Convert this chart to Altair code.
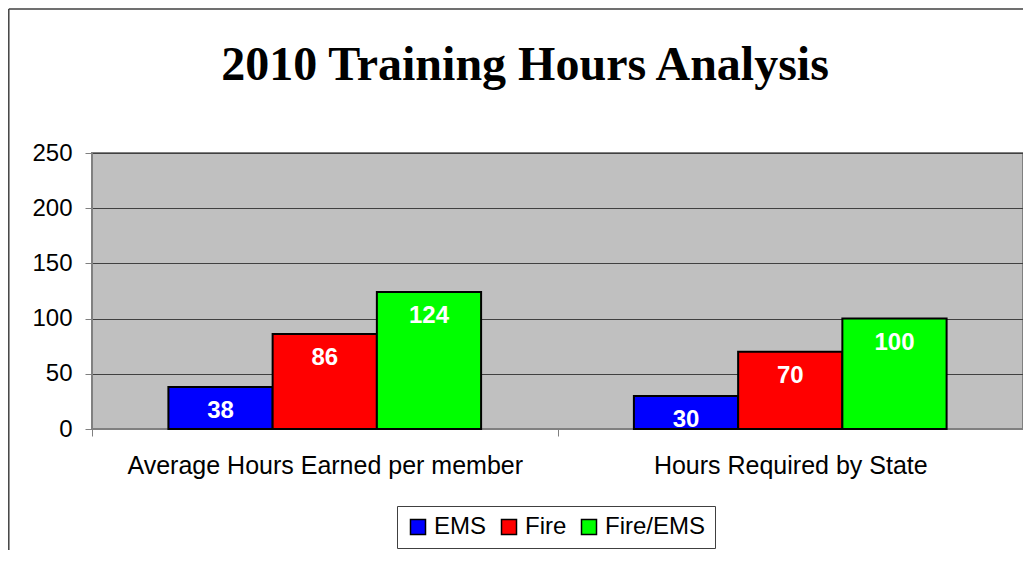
import altair as alt
import pandas as pd

title_text = "2010 Training Hours Analysis"
categories = ["Average Hours Earned per member", "Hours Required by State"]
series = ["EMS", "Fire", "Fire/EMS"]
ems_hours = [38, 30]
fire_hours = [86, 70]
fire_ems_hours = [124, 100]
colors = ["#0000FF", "#FF0000", "#00FF00"]
y_ticks = [0, 50, 100, 150, 200, 250]

rows = []
for s, vals in zip(series, [ems_hours, fire_hours, fire_ems_hours]):
    for c, v in zip(categories, vals):
        rows.append({"category": c, "series": s, "hours": v})
df = pd.DataFrame(rows)

FONT = "Liberation Sans"

x = alt.X(
    "category:N", sort=categories, title=None,
    scale=alt.Scale(paddingInner=0, paddingOuter=0),
    axis=alt.Axis(labelAngle=0, tickBand="extent", grid=False, tickSize=7,
                  labelPadding=37, labelBaseline="alphabetic", labelFontSize=25,
                  domainColor="#808080", tickColor="#808080", labelLimit=600),
)
xoff = alt.XOffset("series:N", sort=series,
                   scale=alt.Scale(paddingInner=0, paddingOuter=0.733))
y = alt.Y(
    "hours:Q", title=None,
    scale=alt.Scale(domain=[0, 250], nice=False),
    axis=alt.Axis(values=y_ticks, tickSize=7, labelPadding=13, labelFontSize=24,
                  grid=True, gridColor="#404040", gridWidth=1,
                  domainColor="#808080", tickColor="#808080"),
)
color = alt.Color(
    "series:N", sort=series,
    scale=alt.Scale(domain=series, range=colors),
    legend=alt.Legend(
        title=None, orient="none", legendX=305, legendY=353,
        direction="horizontal", symbolType="square", symbolSize=225,
        symbolStrokeColor="black", symbolStrokeWidth=1.5, symbolOpacity=1,
        labelFontSize=24, labelFont=FONT, labelColor="black",
        labelOffset=4, columnPadding=10, padding=9,
        strokeColor="#404040", fillColor="white",
    ),
)

bars = alt.Chart(df).mark_bar(stroke="black", strokeWidth=2, opacity=1).encode(
    x=x, xOffset=xoff, y=y, color=color
)
labels = alt.Chart(df).mark_text(
    color="white", fontSize=24, fontWeight="bold", font=FONT,
    baseline="alphabetic", dy=31, align="center"
).encode(x=x, xOffset=xoff, y=y, text="hours:Q")

frame_df = pd.DataFrame({"k": [0]})
frame_left = alt.Chart(frame_df).mark_rule(color="#404040", strokeWidth=1.5).encode(
    x=alt.value(-83.2), y=alt.value(-144), y2=alt.value(600)
)
frame_top = alt.Chart(frame_df).mark_rule(color="#404040", strokeWidth=1.5).encode(
    x=alt.value(-83.2), x2=alt.value(1200), y=alt.value(-144)
)
title = alt.Chart(frame_df).mark_text(
    font="Liberation Serif", fontSize=48, fontWeight="bold", color="black",
    align="center", baseline="alphabetic"
).encode(x=alt.value(433), y=alt.value(-73), text=alt.value(title_text))

chart = alt.layer(frame_left, frame_top, title, bars, labels).properties(
    width=931, height=276,
    autosize=alt.AutoSizeParams(type="none"),
    padding={"left": 84, "top": 145, "right": 0, "bottom": 121},
    background="white",
).configure_view(
    fill="#C0C0C0", stroke="#808080", strokeWidth=2
).configure_axis(
    labelFont=FONT, labelColor="black"
)

chart.save("out.html", embed_options={"renderer": "svg", "actions": False})
